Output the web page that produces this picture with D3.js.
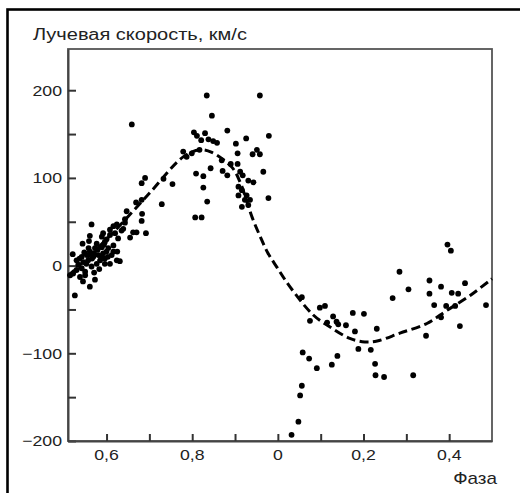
<!DOCTYPE html>
<html>
<head>
<meta charset="utf-8">
<script src="https://cdn.jsdelivr.net/npm/d3@7"></script>
<style>
  html, body { margin: 0; padding: 0; background: #fff; }
  svg { display: block; }
  text { font-family: "Liberation Sans", Arial, sans-serif; fill: #222; }
</style>
</head>
<body>
<svg id="chart" width="520" height="493"></svg>
<script>
// ---------- data ----------
const pointPhase = [
  0.521,0.544,0.561,0.565,0.589,0.577,0.608,0.608,0.616,0.624,0.625,0.631,0.635,0.643,0.647,0.655,0.662,0.670,0.669,0.682,
  0.683,0.682,0.692,0.729,0.573,0.561,0.526,0.538,0.550,0.534,0.546,0.557,0.569,0.581,0.592,0.600,0.561,0.554,0.542,0.530,
  0.577,0.585,0.596,0.604,0.616,0.612,0.624,0.542,0.530,0.522,0.515,0.550,0.565,0.573,0.589,0.596,0.627,0.620,0.639,0.596,
  0.608,0.659,0.690,0.733,0.754,0.682,0.643,0.616,0.592,
  0.537,0.548,0.553,0.558,0.566,0.571,0.579,0.583,0.589,0.594,0.603,0.571,0.545,0.559,0.600,
  0.834,0.958,0.846,0.804,0.811,0.830,0.882,0.821,0.838,0.849,0.858,0.926,0.979,0.902,0.779,0.787,0.799,0.817,0.906,0.951,
  0.941,0.958,0.869,0.890,0.906,0.843,0.871,0.882,0.912,0.918,0.966,0.809,0.826,0.931,0.943,0.826,0.908,0.916,0.908,0.927,
  0.935,0.923,0.931,0.916,0.978,0.835,0.807,0.822,
  1.056,1.098,1.110,1.075,1.129,1.137,1.141,1.115,1.159,1.175,1.201,1.180,1.231,1.058,1.073,1.091,1.126,1.139,1.188,1.217,
  1.227,1.228,1.056,1.052,1.048,1.032,
  1.396,1.404,1.284,1.354,1.437,1.381,1.305,1.354,1.406,1.421,1.268,1.365,1.393,1.414,1.486,1.381,1.425,1.346,1.248,1.316
];
const pointVelocity = [
  13,25,34,47,33,25,41,35,23,47,16,5,40,49,62,32,38,38,72,94,
  59,51,37,70,-16,-24,-34,-13,-7,1,4,6,10,12,14,16,16,12,10,6,
  2,6,8,20,16,12,6,-3,-5,-9,-11,-11,-1,20,21,27,31,37,42,2,
  2,161,100,99,93,75,53,45,37,
  8,15,2,20,8,14,18,-4,10,24,10,-8,-18,28,30,
  194,194,171,152,148,151,154,143,144,142,140,145,148,139,130,124,128,132,128,132,
  127,127,120,116,116,111,108,103,107,103,107,105,102,97,95,89,90,86,80,80,
  75,75,69,67,77,73,55,55,
  -36,-48,-46,-63,-58,-64,-67,-65,-68,-54,-55,-75,-72,-99,-106,-117,-113,-103,-95,-96,
  -112,-125,-137,-148,-178,-193,
  24,17,-7,-17,-20,-24,-27,-32,-31,-32,-37,-45,-46,-46,-45,-59,-69,-80,-127,-125
];
const curvePhase = [0.51,0.608,0.701,0.779,0.818,0.846,0.893,0.912,0.925,0.94,0.958,0.976,0.998,1.028,1.082,1.122,1.168,1.203,1.232,1.285,1.348,1.395,1.449,1.5];
const curveVelocity = [-12,34,83,124,132,129,112,95,77,55,34,15,-2,-24,-56,-70,-83,-87,-86,-77,-66,-51,-34,-15];

const xTickValues = [0.6,0.7,0.8,0.9,1.0,1.1,1.2,1.3,1.4];
const xLabelValues = [0.6,0.8,1.0,1.2,1.4];
const xLabelTexts = ["0,6","0,8","0","0,2","0,4"];
const yTickValues = [-200,-150,-100,-50,0,50,100,150,200];
const yLabelValues = [-200,-100,0,100,200];
const yLabelTexts = ["\u2212200","\u2212100","0","100","200"];
const yTitle = "Лучевая скорость, км/с";
const xTitle = "Фаза";

// ---------- layout ----------
const svg = d3.select("#chart");
const L = 68, R = 492, T = 49, B = 441;
const textScale = 1.18;

const x = d3.scaleLinear().domain([0.51, 1.5]).range([L, R]);
const y = d3.scaleLinear().domain([-200, 247]).range([B, T]);

// outer frame (cropped on right/bottom)
svg.append("rect")
  .attr("x", 7.5).attr("y", 9.5).attr("width", 530).attr("height", 500)
  .attr("fill", "none").attr("stroke", "#000").attr("stroke-width", 2.6);

// plot box
svg.append("rect")
  .attr("x", L).attr("y", T).attr("width", R - L).attr("height", B - T)
  .attr("fill", "none").attr("stroke", "#555").attr("stroke-width", 1.8);

// axes
const yAxis = d3.axisLeft(y).tickValues(yTickValues).tickSizeInner(-8).tickSizeOuter(0).tickFormat("");
const gy = svg.append("g").attr("transform", `translate(${L},0)`).call(yAxis);
const xAxis = d3.axisBottom(x).tickValues(xTickValues).tickSizeInner(-7).tickSizeOuter(0).tickFormat("");
const gx = svg.append("g").attr("transform", `translate(0,${B})`).call(xAxis);
[gx, gy].forEach(g => {
  g.select(".domain").attr("stroke", "#444").attr("stroke-width", 2);
  g.selectAll(".tick line").attr("stroke", "#333").attr("stroke-width", 2);
});

// tick labels
svg.selectAll("text.ylab").data(yLabelValues).join("text")
  .attr("class", "ylab")
  .attr("text-anchor", "end")
  .attr("font-size", 15)
  .attr("transform", d => `translate(62,${y(d) + 5.4}) scale(${textScale},1)`)
  .text((d, i) => yLabelTexts[i]);

svg.selectAll("text.xlab").data(xLabelValues).join("text")
  .attr("class", "xlab")
  .attr("text-anchor", "middle")
  .attr("font-size", 15)
  .attr("transform", d => `translate(${x(d)},460) scale(${textScale},1)`)
  .text((d, i) => xLabelTexts[i]);

// titles
svg.append("text")
  .attr("font-size", 16)
  .attr("transform", `translate(33,40) scale(1.25,1)`)
  .text(yTitle);
svg.append("text")
  .attr("font-size", 16)
  .attr("text-anchor", "end")
  .attr("transform", `translate(497,484) scale(${textScale},1)`)
  .text(xTitle);

// dashed curve
const line = d3.line().x(d => x(d[0])).y(d => y(d[1])).curve(d3.curveCatmullRom.alpha(0.5));
svg.append("path")
  .datum(curvePhase.map((p, i) => [p, curveVelocity[i]]))
  .attr("d", line)
  .attr("fill", "none").attr("stroke", "#000").attr("stroke-width", 3)
  .attr("stroke-dasharray", "9,4.5");

// points
svg.append("g").selectAll("circle")
  .data(pointPhase.map((p, i) => [p, pointVelocity[i]]))
  .join("circle")
  .attr("cx", d => x(d[0])).attr("cy", d => y(d[1]))
  .attr("r", 2.9).attr("fill", "#000");
</script>
</body>
</html>
